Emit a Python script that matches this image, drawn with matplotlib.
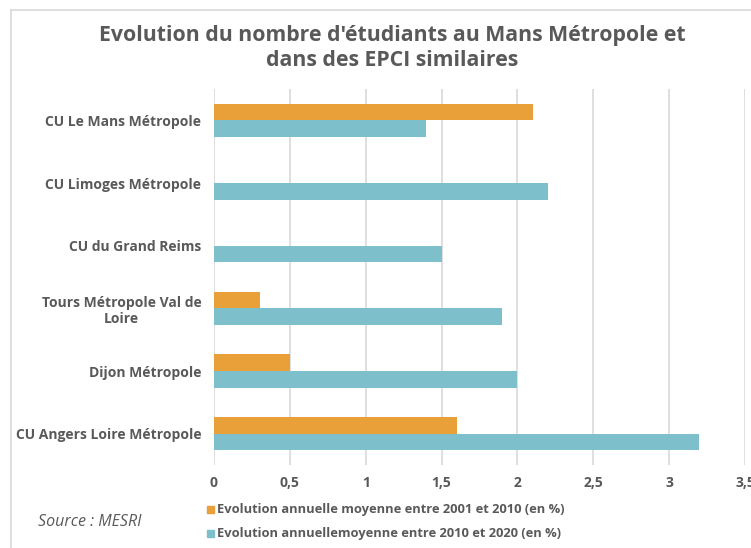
import matplotlib
matplotlib.use("Agg")
import matplotlib.pyplot as plt
import numpy as np
from matplotlib.lines import Line2D
from matplotlib.patches import Rectangle

categories = ["CU Le Mans Métropole", "CU Limoges Métropole", "CU du Grand Reims",
              "Tours Métropole Val de\nLoire", "Dijon Métropole", "CU Angers Loire Métropole"]
series_2001_2010 = [2.1, 0.0, 0.0, 0.3, 0.5, 1.6]
series_2010_2020 = [1.4, 2.2, 1.5, 1.9, 2.0, 3.2]
series_names = ["Evolution annuelle moyenne entre 2001 et 2010 (en %)",
                "Evolution annuellemoyenne entre 2010 et 2020 (en %)"]
xticks = [0, 0.5, 1, 1.5, 2, 2.5, 3, 3.5]
xtick_labels = ["0", "0,5", "1", "1,5", "2", "2,5", "3", "3,5"]

orange = "#E9A038"
teal = "#7DC0CC"
txt = "#595959"

plt.rcParams['font.family'] = ['Open Sans', 'DejaVu Sans']

W, H = 751, 548
fig = plt.figure(figsize=(W / 100, H / 100), dpi=100)

# frame border
fig.add_artist(Line2D([11 / W, 11 / W], [0, 1 - 10 / H], color="#D9D9D9", lw=1.2, transform=fig.transFigure))
fig.add_artist(Line2D([11 / W, 1], [1 - 10 / H, 1 - 10 / H], color="#D9D9D9", lw=1.2, transform=fig.transFigure))

ax = fig.add_axes([214 / W, 1 - 465 / H, (745 - 214) / W, (465 - 89) / H])

y = np.arange(len(categories))
h = 0.267
ax.barh(y - h / 2, series_2001_2010, height=h, color=orange, edgecolor="none", zorder=3)
ax.barh(y + h / 2, series_2010_2020, height=h, color=teal, edgecolor="none", zorder=3)

ax.set_xlim(0, 3.5)
ax.set_ylim(len(categories) - 0.5, -0.5)
ax.set_xticks(xticks)
ax.set_xticklabels(xtick_labels)
ax.set_yticks(y)
ax.set_yticklabels(categories, ha="right", multialignment="center")
ax.tick_params(length=0, labelsize=10, labelcolor=txt)
ax.tick_params(axis="y", pad=9)
ax.tick_params(axis="x", pad=8)
for lab in ax.get_xticklabels() + ax.get_yticklabels():
    lab.set_fontweight("bold")
ax.grid(axis="x", color="#D9D9D9", lw=1.2, zorder=0)
ax.set_axisbelow(True)
for s in ax.spines.values():
    s.set_visible(False)

fig.text(392 / W, 1 - 35 / H, "Evolution du nombre d'étudiants au Mans Métropole et",
         ha="center", va="center", fontsize=15.3, fontweight="bold", color=txt)
fig.text(392 / W, 1 - 60 / H, "dans des EPCI similaires",
         ha="center", va="center", fontsize=15.3, fontweight="bold", color=txt)

# legend
for i, (name, col) in enumerate(zip(series_names, [orange, teal])):
    yy = 1 - (509 + 24 * i) / H
    fig.add_artist(Rectangle((207 / W, yy - 3.5 / H), 7 / W, 7 / H, color=col, transform=fig.transFigure))
    fig.text(217 / W, yy, name, ha="left", va="center", fontsize=9.3, fontweight="bold", color=txt)

fig.text(38 / W, 1 - 522 / H, "Source : MESRI", ha="left", va="center", fontsize=11.5,
         style="italic", color=txt)

fig.savefig("out.png", dpi=100)
